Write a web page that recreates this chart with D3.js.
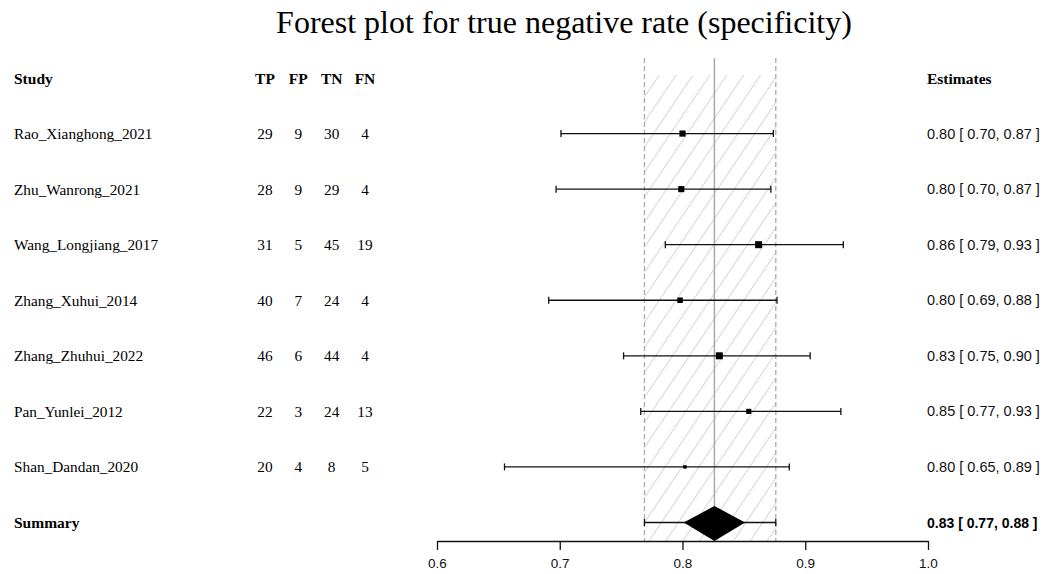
<!DOCTYPE html>
<html>
<head>
<meta charset="utf-8">
<script src="https://cdn.jsdelivr.net/npm/d3@7"></script>
<style>
  body { margin: 0; background: #fff; }
  svg { display: block; }
</style>
</head>
<body>
<div id="chart"></div>
<script>
// study level data
const studies = ['Rao_Xianghong_2021', 'Zhu_Wanrong_2021', 'Wang_Longjiang_2017', 'Zhang_Xuhui_2014',
  'Zhang_Zhuhui_2022', 'Pan_Yunlei_2012', 'Shan_Dandan_2020'];
const tp = [29, 28, 31, 40, 46, 22, 20];
const fp = [9, 9, 5, 7, 6, 3, 4];
const tn = [30, 29, 45, 24, 44, 24, 8];
const fn = [4, 4, 19, 4, 4, 13, 5];
const est = [0.800, 0.799, 0.862, 0.798, 0.830, 0.854, 0.802];
const lower = [0.701, 0.697, 0.786, 0.691, 0.752, 0.766, 0.655];
const upper = [0.874, 0.872, 0.931, 0.877, 0.904, 0.929, 0.887];
const estLabels = ['0.80 [ 0.70, 0.87 ]', '0.80 [ 0.70, 0.87 ]', '0.86 [ 0.79, 0.93 ]', '0.80 [ 0.69, 0.88 ]',
  '0.83 [ 0.75, 0.90 ]', '0.85 [ 0.77, 0.93 ]', '0.80 [ 0.65, 0.89 ]'];

const summaryEst = 0.826;
const summaryCI = [0.769, 0.876];
const summaryDiamond = [0.801, 0.851];
const summaryLabel = '0.83 [ 0.77, 0.88 ]';

const columns = ['TP', 'FP', 'TN', 'FN'];
const xTicks = [0.6, 0.7, 0.8, 0.9, 1.0];

const width = 1046;
const height = 574;
const serif = '"Liberation Serif", "Times New Roman", serif';
const sans = '"Liberation Sans", Arial, sans-serif';

const svg = d3.select('#chart')
  .append('svg')
  .attr('width', width)
  .attr('height', height);

const x = d3.scaleLinear().domain([0.6, 1.0]).range([437, 928]);
const rows = ['header', ...studies, 'Summary'];
const y = d3.scalePoint().domain(rows).range([78, 522.5]);
const colX = d3.scalePoint().domain(columns).range([265, 365]);
const boxSize = d3.scaleSqrt().domain([0, 50]).range([0, 7]);

const axisY = 541;
const hatchTop = 75;
const lineTop = 58;

// title
svg.append('text')
  .attr('x', 564)
  .attr('y', 33)
  .attr('text-anchor', 'middle')
  .attr('font-family', serif)
  .attr('font-size', 32)
  .text('Forest plot for true negative rate (specificity)');

// hatched band for the summary CI
const defs = svg.append('defs');
defs.append('pattern')
  .attr('id', 'hatch')
  .attr('patternUnits', 'userSpaceOnUse')
  .attr('width', 14)
  .attr('height', 14)
  .attr('patternTransform', 'rotate(34)')
  .append('line')
  .attr('x1', 0).attr('y1', 0)
  .attr('x2', 0).attr('y2', 14)
  .attr('stroke', '#b8b8b8')
  .attr('stroke-width', 1.2);

svg.append('rect')
  .attr('x', x(summaryCI[0]))
  .attr('y', hatchTop)
  .attr('width', x(summaryCI[1]) - x(summaryCI[0]))
  .attr('height', axisY - hatchTop)
  .attr('fill', 'url(#hatch)');

svg.selectAll('.ci-line')
  .data(summaryCI)
  .join('line')
  .attr('class', 'ci-line')
  .attr('x1', d => x(d)).attr('x2', d => x(d))
  .attr('y1', lineTop).attr('y2', axisY)
  .attr('stroke', '#aaa')
  .attr('stroke-width', 1.3)
  .attr('stroke-dasharray', '5,3');

svg.append('line')
  .attr('x1', x(summaryEst)).attr('x2', x(summaryEst))
  .attr('y1', lineTop).attr('y2', axisY)
  .attr('stroke', '#aaa')
  .attr('stroke-width', 1.5);

// header row
const header = svg.append('g')
  .attr('font-family', serif)
  .attr('font-weight', 'bold')
  .attr('font-size', 15.5)
  .attr('dominant-baseline', 'central');
header.append('text').attr('x', 14).attr('y', y('header')).text('Study');
header.selectAll('.col-head')
  .data(columns)
  .join('text')
  .attr('class', 'col-head')
  .attr('x', d => colX(d))
  .attr('y', y('header'))
  .attr('text-anchor', 'middle')
  .text(d => d);
header.append('text').attr('x', 927).attr('y', y('header')).text('Estimates');

// study rows
const rowData = studies.map((s, i) => ({
  name: s, TP: tp[i], FP: fp[i], TN: tn[i], FN: fn[i],
  est: est[i], lo: lower[i], hi: upper[i], label: estLabels[i], n: tn[i] + fp[i]
}));

const row = svg.selectAll('.study')
  .data(rowData)
  .join('g')
  .attr('class', 'study')
  .attr('transform', d => `translate(0, ${y(d.name)})`);

row.append('text')
  .attr('x', 14)
  .attr('dominant-baseline', 'central')
  .attr('font-family', serif)
  .attr('font-size', 15.3)
  .text(d => d.name);

columns.forEach(c => {
  row.append('text')
    .attr('x', colX(c))
    .attr('text-anchor', 'middle')
    .attr('dominant-baseline', 'central')
    .attr('font-family', serif)
    .attr('font-size', 15.3)
    .text(d => d[c]);
});

row.append('line')
  .attr('x1', d => x(d.lo)).attr('x2', d => x(d.hi))
  .attr('stroke', '#111').attr('stroke-width', 1.3);
row.append('line')
  .attr('x1', d => x(d.lo)).attr('x2', d => x(d.lo))
  .attr('y1', -3.5).attr('y2', 3.5)
  .attr('stroke', '#111').attr('stroke-width', 1.3);
row.append('line')
  .attr('x1', d => x(d.hi)).attr('x2', d => x(d.hi))
  .attr('y1', -3.5).attr('y2', 3.5)
  .attr('stroke', '#111').attr('stroke-width', 1.3);
row.append('rect')
  .attr('x', d => x(d.est) - boxSize(d.n) / 2)
  .attr('y', d => -boxSize(d.n) / 2)
  .attr('width', d => boxSize(d.n))
  .attr('height', d => boxSize(d.n))
  .attr('fill', '#000');

row.append('text')
  .attr('x', 927)
  .attr('dominant-baseline', 'central')
  .attr('font-family', sans)
  .attr('font-size', 14.5)
  .attr('fill', '#111')
  .text(d => d.label);

// summary row
const sy = y('Summary');
const summary = svg.append('g').attr('transform', `translate(0, ${sy})`);
summary.append('text')
  .attr('x', 14)
  .attr('dominant-baseline', 'central')
  .attr('font-family', serif)
  .attr('font-weight', 'bold')
  .attr('font-size', 15.5)
  .text('Summary');
summary.append('line')
  .attr('x1', x(summaryCI[0])).attr('x2', x(summaryCI[1]))
  .attr('stroke', '#111').attr('stroke-width', 1.3);
summaryCI.forEach(v => {
  summary.append('line')
    .attr('x1', x(v)).attr('x2', x(v))
    .attr('y1', -3.5).attr('y2', 3.5)
    .attr('stroke', '#111').attr('stroke-width', 1.3);
});
summary.append('path')
  .attr('d', `M${x(summaryDiamond[0])},0 L${x(summaryEst)},${-16.5} L${x(summaryDiamond[1])},0 L${x(summaryEst)},${axisY - sy} Z`)
  .attr('fill', '#000');
summary.append('text')
  .attr('x', 927)
  .attr('dominant-baseline', 'central')
  .attr('font-family', sans)
  .attr('font-weight', 'bold')
  .attr('font-size', 14)
  .text(summaryLabel);

// x axis
const axis = svg.append('g')
  .attr('transform', `translate(0, ${axisY})`)
  .call(d3.axisBottom(x).tickValues(xTicks).tickFormat(d3.format('.1f')).tickSize(9).tickSizeOuter(0));
axis.select('.domain').attr('stroke', '#111').attr('stroke-width', 1.3);
axis.selectAll('.tick line').attr('stroke', '#111').attr('stroke-width', 1.3);
axis.selectAll('.tick text')
  .attr('font-family', sans)
  .attr('font-size', 13.5)
  .attr('fill', '#111')
  .attr('dy', '1.1em');
</script>
</body>
</html>
